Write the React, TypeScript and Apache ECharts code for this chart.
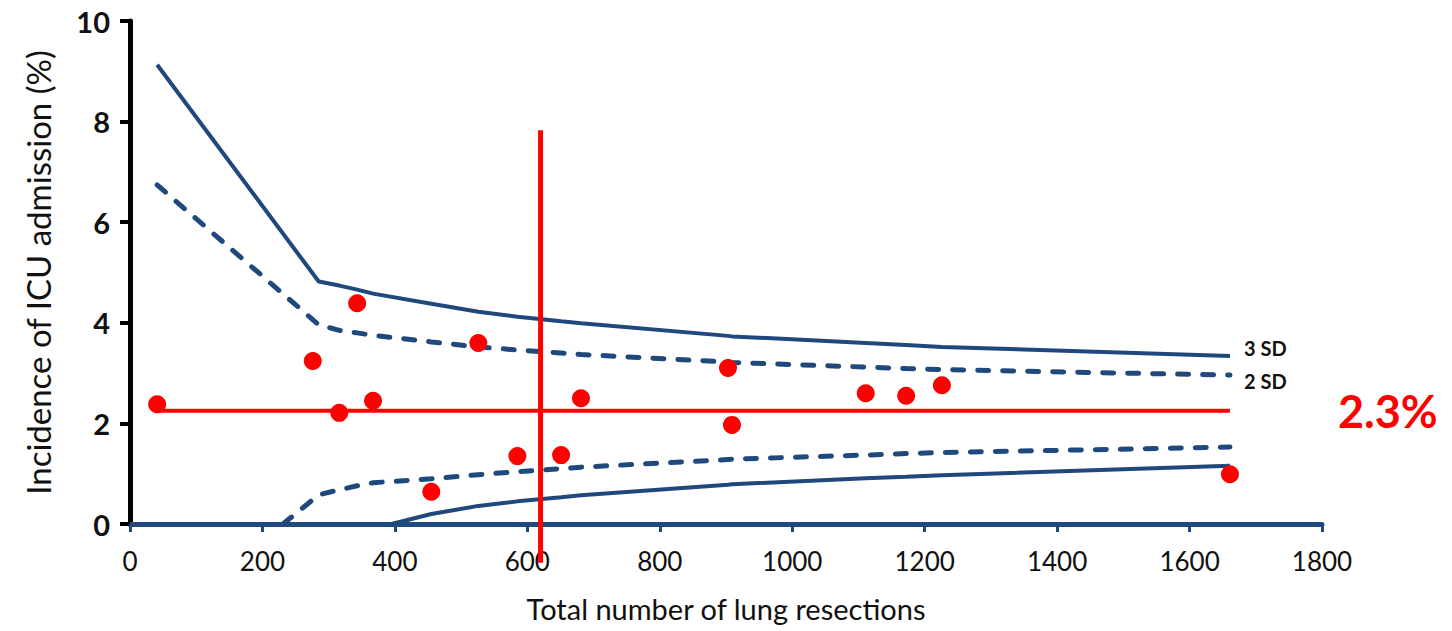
import React, { useEffect, useRef } from 'react';
import * as echarts from 'echarts';

// Axis ticks
const xTickMin = 0;
const xTickMax = 1800;
const xTickStep = 200;
const yTickMin = 0;
const yTickMax = 10;
const yTickStep = 2;

// Hospitals (observed points)
const hospX = [41, 276, 316, 343, 367, 455, 526, 585, 651, 681, 903, 909, 1111, 1172, 1226, 1661];
const hospY = [2.38, 3.24, 2.21, 4.39, 2.45, 0.64, 3.6, 1.35, 1.37, 2.5, 3.1, 1.97, 2.6, 2.55, 2.76, 0.99];

// Control limits
const upperX = [41, 285, 316, 343, 367, 455, 526, 585, 651, 681, 903, 909, 1111, 1172, 1226, 1661];
const upper3Y = [9.13, 4.82, 4.74, 4.66, 4.58, 4.38, 4.22, 4.12, 4.03, 3.99, 3.74, 3.73, 3.6, 3.56, 3.52, 3.34];
const upper2Y = [6.74, 3.96, 3.85, 3.8, 3.75, 3.62, 3.52, 3.46, 3.4, 3.37, 3.22, 3.21, 3.12, 3.09, 3.07, 2.96];
const lower2X = [231, 285, 316, 343, 367, 455, 526, 585, 651, 681, 903, 909, 1111, 1172, 1226, 1661];
const lower2Y = [0, 0.58, 0.68, 0.76, 0.82, 0.9, 0.98, 1.04, 1.1, 1.13, 1.28, 1.29, 1.37, 1.4, 1.42, 1.53];
const lower3X = [395, 455, 526, 585, 651, 681, 903, 909, 1111, 1172, 1226, 1661];
const lower3Y = [0, 0.2, 0.36, 0.45, 0.53, 0.57, 0.78, 0.79, 0.91, 0.94, 0.97, 1.16];

// Mean line and reference line
const meanX = [41, 1661];
const meanValue = 2.25;
const meanLabel = '2.3%';
const refX = 620;
const refY = [7.83, -0.77];

const labels3 = '3 SD';
const labels2 = '2 SD';
const xTitle = 'Total number of lung resections';
const yTitle = 'Incidence of ICU admission (%)';

const zip = (xs: number[], ys: number[]) => xs.map((x, i) => [x, ys[i]]);

export default function App() {
  const ref = useRef<HTMLDivElement>(null);
  useEffect(() => {
    document.body.style.margin = '0';
    const chart = echarts.init(ref.current!, null, { renderer: 'svg' });
    const blue = '#1f487c';
    const font = 'Lato';
    const dash = { type: [11, 14] as any, cap: 'round' as any };
    chart.setOption({
      animation: false,
      backgroundColor: '#ffffff',
      grid: { left: 130, right: 130, top: 21, bottom: 107, containLabel: false },
      xAxis: {
        type: 'value',
        min: xTickMin,
        max: xTickMax,
        interval: xTickStep,
        splitLine: { show: false },
        axisLine: { show: true, lineStyle: { color: blue, width: 5 } },
        axisTick: { show: true, inside: false, length: 8, lineStyle: { color: blue, width: 3 } },
        axisLabel: {
          color: '#111',
          fontFamily: font,
          fontSize: 26,
          margin: 24,
          formatter: (v: number) => String(v),
        },
        name: xTitle,
        nameLocation: 'middle',
        nameGap: 70,
        nameTextStyle: { color: '#111', fontFamily: font, fontSize: 29 },
      },
      yAxis: {
        type: 'value',
        min: yTickMin,
        max: yTickMax,
        interval: yTickStep,
        splitLine: { show: false },
        axisLine: { show: true, onZero: false, lineStyle: { color: '#000', width: 5 } },
        axisTick: { show: true, inside: false, length: 10, lineStyle: { color: '#000', width: 4 } },
        axisLabel: { color: '#111', fontFamily: font, fontWeight: 'bold', fontSize: 29, margin: 20 },
        name: yTitle,
        nameLocation: 'middle',
        nameGap: 76,
        nameTextStyle: { color: '#111', fontFamily: font, fontSize: 33 },
      },
      series: [
        {
          type: 'line',
          data: zip(upperX, upper3Y),
          symbol: 'none',
          lineStyle: { color: blue, width: 4 },
          endLabel: {
            show: true,
            formatter: labels3,
            color: '#111',
            fontFamily: font,
            fontWeight: 'bold',
            fontSize: 20,
            distance: 14,
            offset: [0, -8],
          },
          z: 2,
        },
        {
          type: 'line',
          data: zip(upperX, upper2Y),
          symbol: 'none',
          lineStyle: { color: blue, width: 5, ...dash },
          endLabel: {
            show: true,
            formatter: labels2,
            color: '#111',
            fontFamily: font,
            fontWeight: 'bold',
            fontSize: 20,
            distance: 14,
            offset: [0, 6],
          },
          z: 2,
        },
        {
          type: 'line',
          data: zip(lower2X, lower2Y),
          symbol: 'none',
          lineStyle: { color: blue, width: 5, ...dash },
          z: 2,
        },
        {
          type: 'line',
          data: zip(lower3X, lower3Y),
          symbol: 'none',
          lineStyle: { color: blue, width: 4 },
          z: 2,
        },
        {
          type: 'line',
          data: meanX.map((x) => [x, meanValue]),
          symbol: 'none',
          lineStyle: { color: '#ff0000', width: 4 },
          endLabel: {
            show: true,
            formatter: meanLabel,
            color: '#ff0000',
            fontFamily: font,
            fontWeight: 'bold',
            fontSize: 45,
            distance: 108,
          },
          z: 3,
        },
        {
          type: 'line',
          data: refY.map((y) => [refX, y]),
          symbol: 'none',
          clip: false,
          lineStyle: { color: '#ff0000', width: 5 },
          z: 4,
        },
        {
          type: 'scatter',
          data: zip(hospX, hospY),
          symbol: 'circle',
          symbolSize: 18,
          itemStyle: { color: '#ff0000', opacity: 1 },
          z: 5,
        },
      ],
    });
    return () => chart.dispose();
  }, []);
  return <div ref={ref} style={{ width: 1452, height: 631 }} />;
}
